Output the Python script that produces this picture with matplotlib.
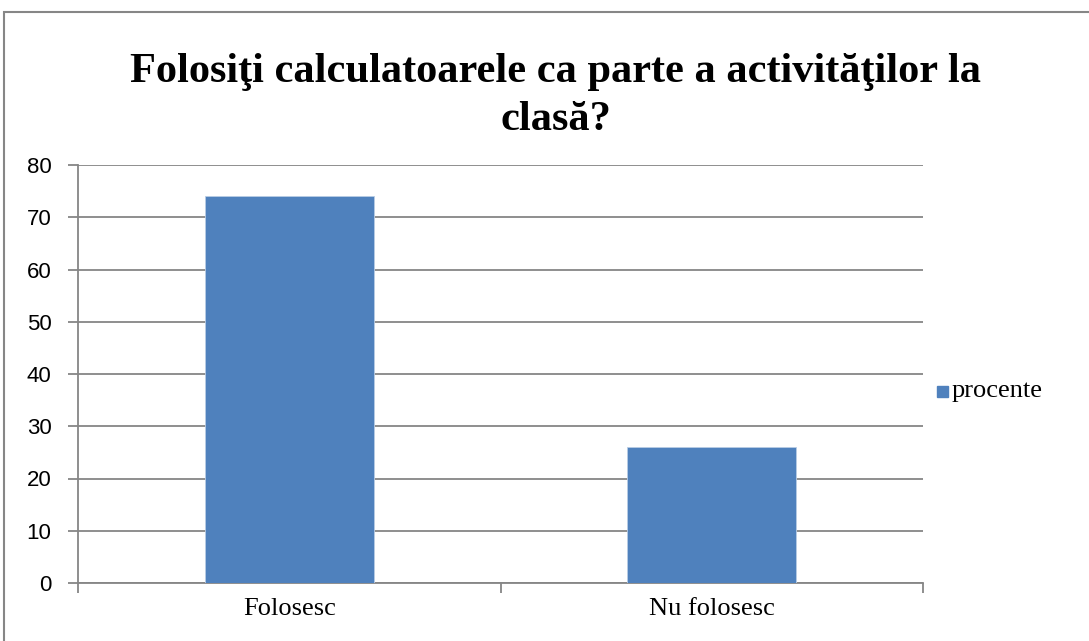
import matplotlib
matplotlib.use("Agg")
import matplotlib.pyplot as plt
from matplotlib.patches import Rectangle

categories = ["Folosesc", "Nu folosesc"]
procente = [74, 26]
yticks = [0, 10, 20, 30, 40, 50, 60, 70, 80]
title = "Folosiţi calculatoarele ca parte a activităţilor la\nclasă?"
series_name = "procente"

W, H = 1089, 641
fig = plt.figure(figsize=(W / 100, H / 100), dpi=100)
fig.patch.set_facecolor("white")

# axes in pixel coords: left 78, right 923, top 165, bottom 583
l, r, t, b = 78, 923, 165, 583
ax = fig.add_axes([l / W, 1 - b / H, (r - l) / W, (b - t) / H])

grid_c = "#868686"
x = list(range(len(categories)))
bars = ax.bar(x, procente, width=0.40, color="#4F81BD", zorder=3,
              edgecolor="#B9CDE5", linewidth=0.6, label=series_name)

ax.set_xlim(-0.5, len(categories) - 0.5)
ax.set_ylim(0, 80)
ax.set_yticks(yticks)
ax.yaxis.grid(True, color=grid_c, linewidth=1.3, zorder=0)
ax.set_axisbelow(True)

for s in ["top", "right"]:
    ax.spines[s].set_visible(False)
for s in ["left", "bottom"]:
    ax.spines[s].set_color(grid_c)
    ax.spines[s].set_linewidth(1.3)

ax.tick_params(axis="y", length=7, width=1.3, color=grid_c, pad=12,
               labelsize=16)
for lab in ax.get_yticklabels():
    lab.set_fontfamily("Liberation Sans")

# x ticks at category boundaries, labels at centers
ax.set_xticks([-0.5, 0.5, 1.5])
ax.set_xticklabels([])
ax.tick_params(axis="x", length=7, width=1.3, color=grid_c)
ax.set_xticks(x, minor=True)
ax.set_xticklabels(categories, minor=True, fontfamily="Liberation Serif",
                   fontsize=19)
ax.tick_params(axis="x", which="minor", length=0, pad=11)

fig.text(556 / W, 1 - 96 / H, title, ha="center", va="center",
         fontfamily="Liberation Serif", fontweight="bold", fontsize=30.5,
         linespacing=1.32)

# legend
fig.patches.append(Rectangle((937 / W, 1 - 397 / H), 11 / W, 11 / H,
                             transform=fig.transFigure, color="#4F81BD"))
fig.text(952 / W, 1 - 391 / H, series_name, ha="left", va="center",
         fontfamily="Liberation Serif", fontsize=19)

# outer border
fig.patches.append(Rectangle((4 / W, -0.05), 1.1, 1 - 12 / H + 0.05,
                             transform=fig.transFigure, fill=False,
                             edgecolor="#868686", linewidth=1.5))

fig.savefig("out.png", dpi=100)
